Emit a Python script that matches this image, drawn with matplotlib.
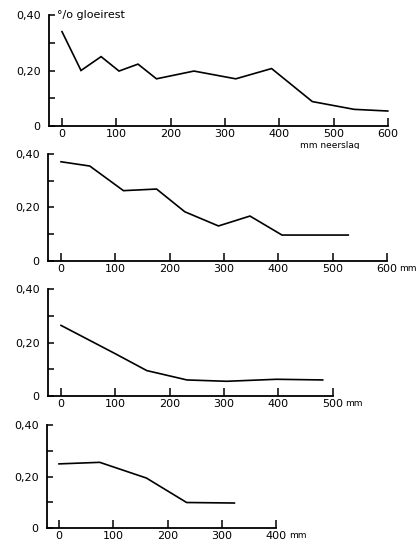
import matplotlib
matplotlib.use("Agg")
import matplotlib.pyplot as plt

# gloeirest (%) tegen neerslag (mm), vier profielen
mm1 = [0, 35, 72, 105, 140, 174, 243, 320, 386, 461, 538, 600]
gl1 = [0.34, 0.20, 0.25, 0.198, 0.223, 0.17, 0.198, 0.17, 0.207, 0.088, 0.06, 0.054]

mm2 = [0, 53, 115, 176, 228, 290, 348, 407, 529]
gl2 = [0.371, 0.355, 0.263, 0.269, 0.184, 0.131, 0.168, 0.097, 0.097]

mm3 = [0, 100, 158, 232, 305, 397, 482]
gl3 = [0.264, 0.158, 0.095, 0.06, 0.055, 0.0625, 0.06]

mm4 = [0, 75, 161, 235, 323]
gl4 = [0.249, 0.255, 0.194, 0.099, 0.097]

panels = [(mm1, gl1, 600), (mm2, gl2, 600), (mm3, gl3, 500), (mm4, gl4, 400)]
y_ticks = [0, 0.1, 0.2, 0.3, 0.4]
y_labels = ["0", "", "0,20", "", "0,40"]

W, H = 418, 545
fig = plt.figure(figsize=(W / 100, H / 100), dpi=100)

# pixel positie van y=0, y=0.4, x=0 en y-as per paneel
rows = [(126, 15, 62, 49), (261, 154, 61, 48), (396, 289, 61, 48), (528, 425, 59, 47)]
px_mm = 0.543
width_px = 360
ymin, ymax = -0.01, 0.42

for i, ((x, y, xmax), (p0, p40, x0_px, left_px)) in enumerate(zip(panels, rows)):
    ppu = (p0 - p40) / 0.4
    bot = p0 - ymin * ppu
    top = p0 - ymax * ppu
    ax = fig.add_axes([left_px / W, 1 - bot / H, width_px / W, (bot - top) / H])
    xl = -(x0_px - left_px) / px_mm
    ax.set_xlim(xl, xl + width_px / px_mm)
    ax.set_ylim(ymin, ymax)

    ax.plot(x, y, color="black", lw=1.2, solid_joinstyle="miter")

    for s in ["top", "right"]:
        ax.spines[s].set_visible(False)
    ax.spines["bottom"].set_position(("data", 0))
    ax.spines["left"].set_position(("data", xl))
    ax.spines["left"].set_bounds(0, 0.4)
    ax.spines["bottom"].set_bounds(xl, xmax)
    for s in ["left", "bottom"]:
        ax.spines[s].set_linewidth(1.3)

    xt = list(range(0, xmax + 1, 100))
    ax.set_xticks(xt)
    ax.set_xticklabels([str(v) for v in xt])
    ax.set_yticks(y_ticks)
    ax.set_yticklabels(y_labels)
    ax.tick_params(axis="x", direction="in", length=6, width=1.1, pad=2, labelsize=8)
    ax.tick_params(axis="y", direction="in", length=4, width=1.1, pad=6, labelsize=8)

    if i == 0:
        ax.text(-10, 0.40, "°/o gloeirest", ha="left", va="center", fontsize=8)
        ax.annotate("mm neerslag", xy=(548, 0), xytext=(0, -11),
                    textcoords="offset points", ha="right", va="top", fontsize=6.5)
    else:
        ax.annotate("mm", xy=(xmax, 0), xytext=(9, -2),
                    textcoords="offset points", ha="left", va="top", fontsize=6.5)

fig.savefig("out.png", dpi=100)
